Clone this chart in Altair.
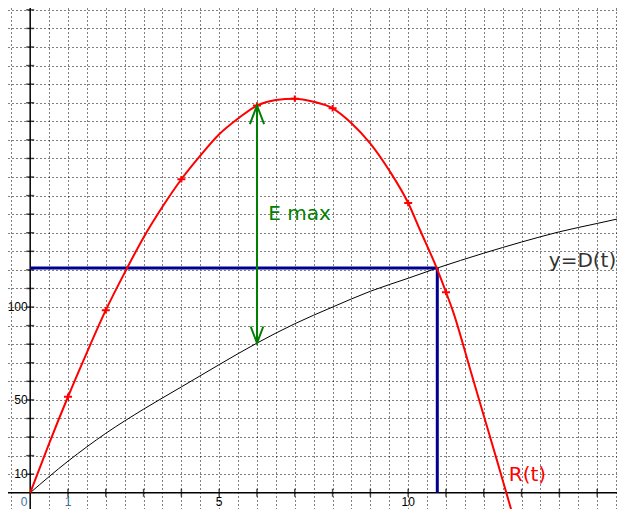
import altair as alt
import pandas as pd

# ---- data ----
# R(t): red curve
r_t = [0, 0.5, 1, 1.5, 2, 2.5, 3, 3.5, 4, 4.5, 5, 5.5, 6, 6.5, 7, 7.5, 8, 8.5, 9, 9.5,
       10, 10.31, 10.75, 11, 11.19, 11.66, 12, 12.35, 12.72, 12.9]
r_v = [0, 26.5, 51.7, 75.5, 98.3, 118.5, 137.5, 154, 168.8, 181.5, 193, 201.5, 208.5,
       211.5, 212.2, 210.5, 207, 199, 188, 173.5, 156, 141.6, 121.2, 108, 97.4, 65,
       41.5, 17.3, -8.7, -21]
# R(t) marked points
m_t = [1, 2, 4, 6, 7, 8, 10, 11]
m_v = [51.7, 98.3, 168.8, 208.5, 212.2, 207, 156, 108]
# D(t): black curve
d_t = [0, 1, 2, 3, 4, 5, 6, 7, 8, 9, 10, 10.77, 12, 13, 14, 15, 16]
d_v = [0, 17, 32, 45, 57, 69, 80.6, 91, 100, 108.5, 115.5, 121, 129, 135, 140.5, 145, 149.5]
# intersection R = D
inter_t = [10.77]
inter_v = [121]
# E max arrow at t = 6
emax_t = [6]
emax_low = [80.6]
emax_high = [208.5]
# axis tick values and labels
x_grid = [v / 2 for v in range(-1, 32) if v != 0]
y_grid = list(range(10, 261, 10))
x_ticks = list(range(1, 16))
y_ticks = list(range(10, 261, 10))
x_zero_label = ["0"]
x_labels = [1, 5, 10]
x_label_text = ["1", "5", "10"]
x_label_color = ["#3a70a8", "#000000", "#000000"]
y_labels = [10, 50, 100]
y_label_text = ["10", "50", "100"]
# annotations
ann_text = ["E max", "y=D(t)", "R(t)"]
ann_t = [6.3, 13.72, 12.66]
ann_v = [150, 125, 9.5]
ann_color = ["#008000", "#333333", "#ff0000"]

FONT = "DejaVu Sans"
TICKFONT = "Liberation Sans"
xs = alt.Scale(domain=[-0.587, 15.524], nice=False, zero=False)
ys = alt.Scale(domain=[-8.74, 261.0], nice=False, zero=False)
xax = alt.Axis(values=x_grid, grid=True, gridDash=[1, 3], gridColor="#000000",
               gridOpacity=1, gridWidth=1, labels=False, ticks=False,
               domain=False, title=None)
yax = alt.Axis(values=y_grid, grid=True, gridDash=[1, 3], gridColor="#000000",
               gridOpacity=1, gridWidth=1, labels=False, ticks=False,
               domain=False, title=None)


def X(f="t"):
    return alt.X(f + ":Q", scale=xs, axis=xax)


def Y(f="v"):
    return alt.Y(f + ":Q", scale=ys, axis=yax)


R = pd.DataFrame({"t": r_t, "v": r_v})
M = pd.DataFrame({"t": m_t, "v": m_v})
D = pd.DataFrame({"t": d_t, "v": d_v})
I = pd.DataFrame({"t": inter_t, "v": inter_v, "z": [0]})
E = pd.DataFrame({"t": emax_t, "v": emax_low, "v2": emax_high})
EH = pd.DataFrame({"t": emax_t, "v": emax_high})
EL = pd.DataFrame({"t": emax_t, "v": emax_low})
XT = pd.DataFrame({"t": x_ticks, "v": [0] * len(x_ticks)})
YT = pd.DataFrame({"t": [0] * len(y_ticks), "v": y_ticks})
XL = pd.DataFrame({"t": x_labels, "v": [0] * len(x_labels), "s": x_label_text,
                   "c": x_label_color})
XL0 = pd.DataFrame({"t": [0], "v": [0], "s": x_zero_label})
YL = pd.DataFrame({"t": [0] * len(y_labels), "v": y_labels, "s": y_label_text})
A = pd.DataFrame({"t": ann_t, "v": ann_v, "s": ann_text, "c": ann_color})
AX = pd.DataFrame({"t": [0], "v": [0]})

d_line = alt.Chart(D).mark_line(color="#000000", strokeWidth=1, interpolate="monotone",
                                clip=True).encode(x=X(), y=Y())

x_axis_line = alt.Chart(AX).mark_rule(color="#000000", strokeWidth=1.5).encode(
    y=Y(), x=alt.value(0), x2=alt.value(609))
y_axis_line = alt.Chart(AX).mark_rule(color="#000000", strokeWidth=1.5).encode(
    x=X(), y=alt.value(0), y2=alt.value(501))

x_tick_marks = alt.Chart(XT).mark_tick(color="#000000", orient="vertical", size=8,
                                       thickness=1.5).encode(x=X(), y=Y())
y_tick_marks = alt.Chart(YT).mark_tick(color="#000000", orient="horizontal", size=8,
                                       thickness=1.5).encode(x=X(), y=Y())

blue_h = alt.Chart(I).mark_rule(color="#000090", strokeWidth=3).encode(
    x=alt.X("z:Q", scale=xs, axis=xax), x2="t:Q", y=Y())
blue_v = alt.Chart(I).mark_rule(color="#000090", strokeWidth=3).encode(
    x=X(), y=alt.Y("z:Q", scale=ys, axis=yax), y2="v:Q")

r_line = alt.Chart(R).mark_line(color="#ff0000", strokeWidth=2, interpolate="monotone",
                                clip=True).encode(x=X(), y=Y())
r_marks = alt.Chart(M).mark_point(shape="M-1,0L1,0M0,-0.8L0,0.8", size=64, filled=False,
                                  color="#ff0000", strokeWidth=2, opacity=1).encode(x=X(), y=Y())

arrow = alt.Chart(E).mark_rule(color="#008000", strokeWidth=2).encode(
    x=X(), y=Y(), y2="v2:Q")
head_top = alt.Chart(EH).mark_point(shape="M-0.38,1L0,0L0.38,1", size=1400, filled=False,
                                    color="#008000", strokeWidth=2, opacity=1).encode(x=X(), y=Y())
head_bot = alt.Chart(EL).mark_point(shape="M-0.38,-1L0,0L0.38,-1", size=1100, filled=False,
                                    color="#008000", strokeWidth=2, opacity=1).encode(x=X(), y=Y())

x_lab = alt.Chart(XL).mark_text(font=TICKFONT, fontSize=12, baseline="alphabetic", dy=13.5,
                                align="center").encode(
    x=X(), y=Y(), text="s:N", color=alt.Color("c:N", scale=None))
x_lab0 = alt.Chart(XL0).mark_text(font=TICKFONT, fontSize=12, baseline="alphabetic", dy=13.5,
                                  dx=-6, align="center", color="#3a70a8").encode(
    x=X(), y=Y(), text="s:N")
y_lab = alt.Chart(YL).mark_text(font=TICKFONT, fontSize=12, baseline="middle", dx=-2.5,
                                align="right", color="#000000").encode(x=X(), y=Y(), text="s:N")

ann = alt.Chart(A).mark_text(font=FONT, fontSize=20, baseline="middle", align="left").encode(
    x=X(), y=Y(), text="s:N", color=alt.Color("c:N", scale=None))

chart = alt.layer(
    d_line, x_axis_line, y_axis_line, x_tick_marks, y_tick_marks,
    blue_h, blue_v, r_line, r_marks, arrow, head_top, head_bot,
    x_lab, x_lab0, y_lab, ann
).properties(
    width=609, height=501, padding=0,
    autosize=alt.AutoSizeParams(type="none"),
    background="#ffffff"
).configure_view(stroke=None)

chart.save("out.html", embed_options={"renderer": "svg", "actions": False})
